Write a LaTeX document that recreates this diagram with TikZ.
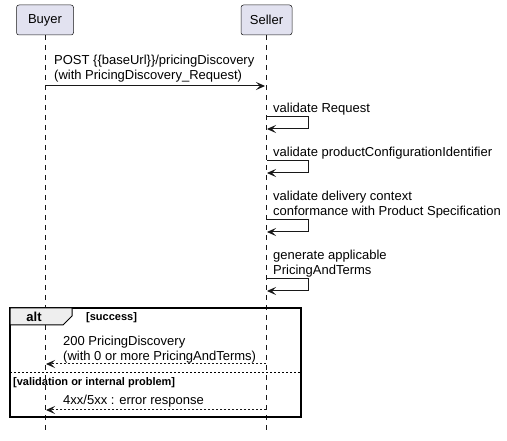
\documentclass[tikz,border=0pt]{standalone}
\usepackage{fontspec}
\setmainfont{Liberation Sans}
\usetikzlibrary{arrows.meta}
\definecolor{partfill}{HTML}{E2E2F0}
\definecolor{ink}{HTML}{181818}
\definecolor{tabfill}{HTML}{EEEEEE}
\begin{document}
\begin{tikzpicture}[x=1pt,y=-1pt,
  part/.style={draw=ink, line width=0.5pt, fill=partfill, rounded corners=2.5pt,
    minimum height=30pt, inner sep=0pt, font=\fontsize{13}{15}\selectfont},
  lifeline/.style={draw=ink, line width=0.5pt, dash pattern=on 5pt off 5pt},
  tip/.style={-{Stealth[length=9pt,width=8pt,inset=4pt]}},
  msg/.style={draw=ink, line width=1pt, tip},
  ret/.style={draw=ink, line width=1pt, dash pattern=on 2pt off 2pt, tip},
  txt/.style={inner sep=0pt, anchor=base west, align=left, font=\fontsize{13}{15}\selectfont},
  guard/.style={inner sep=0pt, anchor=base west, font=\fontsize{11}{13}\selectfont\bfseries},
  frame/.style={draw=black, line width=1.5pt}
]
\useasboundingbox[fill=white] (0,0) rectangle (507,441);

% participants
\node[part, minimum width=57pt] (buyer) at (45,20) {Buyer};
\node[part, minimum width=51pt] (seller) at (266.5,20) {Seller};
\coordinate (buyerend) at (45,432);
\coordinate (sellerend) at (266,432);
\draw[lifeline] (buyer.south) -- (buyerend);
\draw[lifeline] (seller.south -| sellerend) -- (sellerend);

% request (base anchor = last line)
\coordinate (reqa) at (45,86);
\coordinate (reqb) at (265,86);
\node[txt] (reqtxt) at (54,80) {POST \{\{baseUrl\}\}/pricingDiscovery\\(with PricingDiscovery\_Request)};
\draw[msg] (reqa) -- (reqb);

% self messages
\node[txt] (v1txt) at (273,113) {validate Request};
\coordinate (v1a) at (267,117);
\coordinate (v1b) at (267,129);
\draw[msg] (v1a) -- ++(41,0) -- ++(0,12) -- (v1b);

\node[txt] (v2txt) at (273,157) {validate productConfigurationIdentifier};
\coordinate (v2a) at (267,161);
\coordinate (v2b) at (267,173);
\draw[msg] (v2a) -- ++(41,0) -- ++(0,12) -- (v2b);

\node[txt] (v3txt) at (273,216) {validate delivery context\\conformance with Product Specification};
\coordinate (v3a) at (267,220);
\coordinate (v3b) at (267,232);
\draw[msg] (v3a) -- ++(41,0) -- ++(0,12) -- (v3b);

\node[txt] (v4txt) at (273,275) {generate applicable\\PricingAndTerms};
\coordinate (v4a) at (267,279);
\coordinate (v4b) at (267,291);
\draw[msg] (v4a) -- ++(41,0) -- ++(0,12) -- (v4b);

% alt frame
\draw[frame] (10,308) rectangle (301,417);
\filldraw[fill=tabfill, draw=black, line width=1pt] (10,308) -- (72,308) -- (72,316) -- (63,325) -- (10,325) -- cycle;
\node[inner sep=0pt, font=\fontsize{13}{15}\selectfont\bfseries] (alttxt) at (34,316.5) {alt};
\node[guard] (g1) at (86,321) {[success]};
\draw[draw=black, line width=1pt, dash pattern=on 2pt off 2pt] (10,373) -- (301,373);
\node[guard] (g2) at (13,385) {[validation or internal problem]};

% responses
\node[txt] (r1txt) at (63,360) {200 PricingDiscovery\\(with 0 or more PricingAndTerms)};
\coordinate (r1a) at (266,364);
\coordinate (r1b) at (46,364);
\draw[ret] (r1a) -- (r1b);

\node[txt] (r2txt) at (63,405) {4xx/5xx : error response};
\coordinate (r2a) at (266,410);
\coordinate (r2b) at (46,410);
\draw[ret] (r2a) -- (r2b);
\end{tikzpicture}
\end{document}
